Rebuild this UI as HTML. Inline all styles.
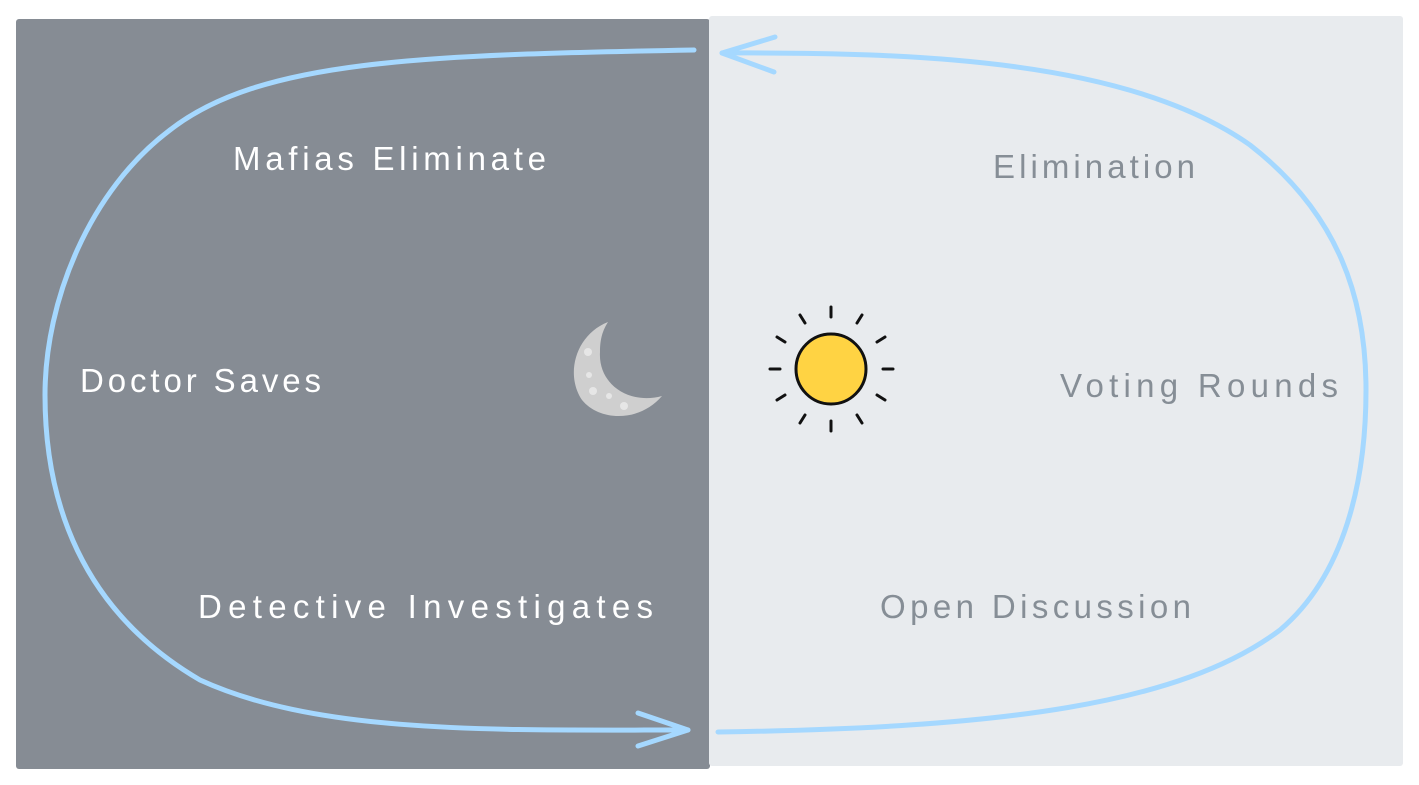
<!DOCTYPE html>
<html><head><meta charset="utf-8"><style>
html,body{margin:0;padding:0;background:#fff;width:1419px;height:785px;overflow:hidden}
svg text{font-family:"Liberation Sans",sans-serif;font-size:33px}
</style></head><body>
<svg width="1419" height="785" viewBox="0 0 1419 785">
<rect x="16" y="19" width="694" height="750" rx="3" fill="#868c94"/>
<rect x="709" y="16" width="694" height="750" rx="3" fill="#e8ebee"/>
<g fill="none" stroke="#a5d8ff" stroke-width="5" stroke-linecap="round" stroke-linejoin="round">
<path d="M694 50 C420 55 260 60 170 130 C90 190 45 300 45 395 C45 500 80 610 200 680 C320 735 500 730 688 730"/>
<path d="M638 713 L688 730 L638 746"/>
<path d="M718 732 C1000 728 1180 705 1280 630 C1345 575 1366 480 1366 390 C1366 300 1340 215 1250 145 C1130 60 920 52 722 53"/>
<path d="M775 37 L722 53 L774 72"/>
</g>
<text x="233" y="170" fill="#fff" textLength="313" lengthAdjust="spacing">Mafias Eliminate</text>
<text x="80" y="392" fill="#fff" textLength="241" lengthAdjust="spacing">Doctor Saves</text>
<text x="198" y="618" fill="#fff" textLength="455" lengthAdjust="spacing">Detective Investigates</text>
<text x="993" y="178" fill="#868e96" textLength="202" lengthAdjust="spacing">Elimination</text>
<text x="1060" y="397" fill="#868e96" textLength="278" lengthAdjust="spacing">Voting Rounds</text>
<text x="880" y="618" fill="#868e96" textLength="311" lengthAdjust="spacing">Open Discussion</text>
<g>
<path d="M608 322 C575 335 565 375 582 400 C600 422 640 422 662 396 C630 405 598 385 600 352 C600 338 603 330 608 322Z" fill="#cfcfcf"/>
<circle cx="588" cy="352" r="4" fill="#e6e6e6"/><circle cx="589" cy="375" r="3" fill="#e6e6e6"/>
<circle cx="593" cy="391" r="4" fill="#e6e6e6"/><circle cx="609" cy="396" r="3" fill="#e6e6e6"/><circle cx="624" cy="406" r="4" fill="#e6e6e6"/>
</g>
<g stroke="#111" stroke-width="3" stroke-linecap="round">
<circle cx="831" cy="369" r="35" fill="#ffd343"/>
<line x1="831" y1="307" x2="831" y2="317"/><line x1="831" y1="421" x2="831" y2="431"/>
<line x1="770" y1="369" x2="780" y2="369"/><line x1="883" y1="369" x2="893" y2="369"/>
<line x1="800" y1="315" x2="805" y2="323"/><line x1="862" y1="315" x2="857" y2="323"/>
<line x1="777" y1="337" x2="785" y2="342"/><line x1="885" y1="337" x2="877" y2="342"/>
<line x1="777" y1="400" x2="785" y2="395"/><line x1="885" y1="400" x2="877" y2="395"/>
<line x1="800" y1="423" x2="805" y2="415"/><line x1="862" y1="423" x2="857" y2="415"/>
</g>
</svg>
</body></html>
